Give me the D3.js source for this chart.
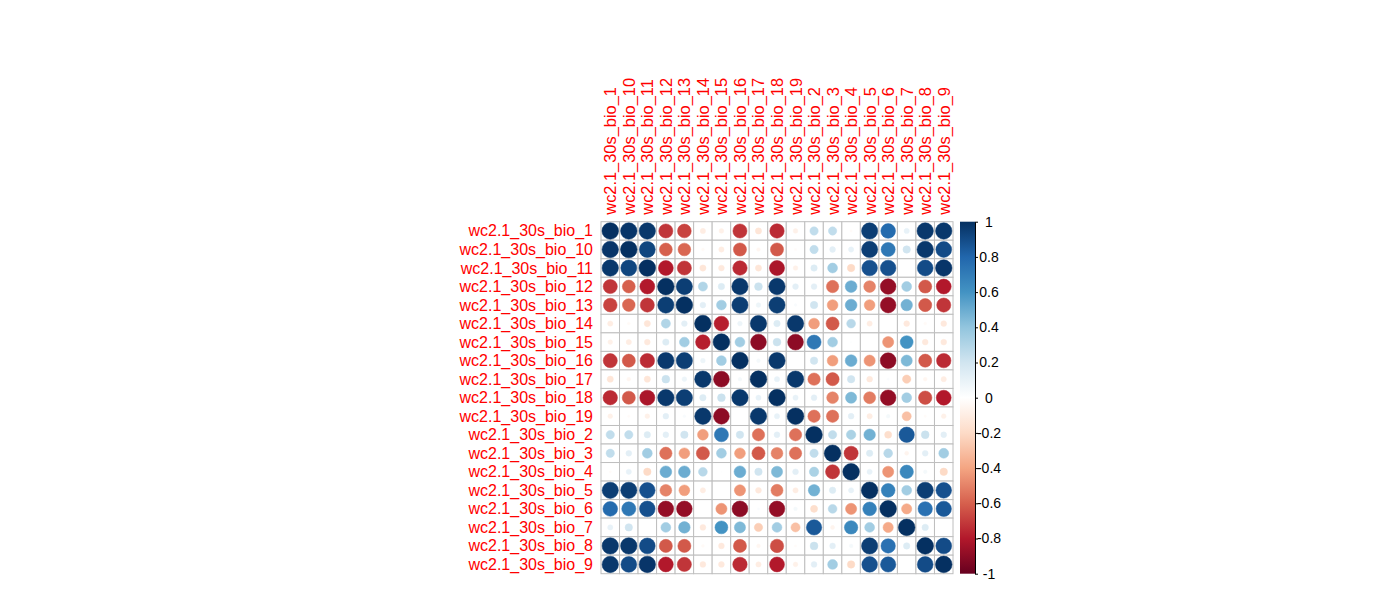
<!DOCTYPE html>
<html>
<head>
<meta charset="utf-8">
<script src="https://cdn.jsdelivr.net/npm/d3@7"></script>
<style>
  html, body { margin: 0; padding: 0; background: #ffffff; }
  svg { display: block; }
  text { font-family: "Liberation Sans", Arial, sans-serif; }
</style>
</head>
<body>
<svg id="chart" width="1388" height="590"></svg>
<script>
// ---------------- data ----------------
const variables = ["wc2.1_30s_bio_1","wc2.1_30s_bio_10","wc2.1_30s_bio_11","wc2.1_30s_bio_12",
  "wc2.1_30s_bio_13","wc2.1_30s_bio_14","wc2.1_30s_bio_15","wc2.1_30s_bio_16","wc2.1_30s_bio_17",
  "wc2.1_30s_bio_18","wc2.1_30s_bio_19","wc2.1_30s_bio_2","wc2.1_30s_bio_3","wc2.1_30s_bio_4",
  "wc2.1_30s_bio_5","wc2.1_30s_bio_6","wc2.1_30s_bio_7","wc2.1_30s_bio_8","wc2.1_30s_bio_9"];

const corrRows = [
  [ 1.00, 0.98, 0.97,-0.72,-0.68,-0.10,-0.08,-0.72,-0.14,-0.75,-0.08, 0.25, 0.25,-0.02, 0.95, 0.78, 0.10, 0.97, 0.97],
  [ 0.98, 1.00, 0.92,-0.60,-0.58,-0.03,-0.10,-0.62,-0.05,-0.62,-0.02, 0.25, 0.12, 0.10, 0.95, 0.72, 0.20, 0.97, 0.90],
  [ 0.97, 0.92, 1.00,-0.80,-0.72,-0.14,-0.12,-0.75,-0.14,-0.82,-0.08, 0.15, 0.35,-0.20, 0.88, 0.88, 0.00, 0.90, 0.98],
  [-0.72,-0.60,-0.80, 1.00, 0.95, 0.30, 0.15, 0.97, 0.22, 0.97, 0.12, 0.12,-0.55, 0.50,-0.50,-0.88, 0.35,-0.62,-0.80],
  [-0.68,-0.58,-0.72, 0.95, 1.00, 0.12, 0.35, 0.95, 0.08, 0.95, 0.03, 0.20,-0.42, 0.50,-0.42,-0.88, 0.48,-0.62,-0.72],
  [-0.10,-0.03,-0.14, 0.30, 0.12, 1.00,-0.78, 0.08, 0.97, 0.15, 0.97,-0.42,-0.62, 0.28,-0.10, 0.00,-0.12,-0.03,-0.12],
  [-0.08,-0.10,-0.12, 0.15, 0.35,-0.78, 1.00, 0.35,-0.90, 0.22,-0.90, 0.72, 0.35, 0.01, 0.00,-0.45, 0.60,-0.12,-0.12],
  [-0.72,-0.62,-0.75, 0.97, 0.95, 0.08, 0.35, 1.00, 0.05, 0.97, 0.00, 0.20,-0.42, 0.50,-0.45,-0.90, 0.45,-0.62,-0.75],
  [-0.14,-0.05,-0.14, 0.22, 0.08, 0.97,-0.90, 0.05, 1.00, 0.10, 0.97,-0.55,-0.62, 0.20,-0.12, 0.02,-0.25,-0.05,-0.10],
  [-0.75,-0.62,-0.82, 0.97, 0.95, 0.15, 0.22, 0.97, 0.10, 1.00, 0.10, 0.12,-0.50, 0.45,-0.52,-0.88, 0.35,-0.65,-0.80],
  [-0.08,-0.02,-0.08, 0.12, 0.03, 0.97,-0.90, 0.00, 0.97, 0.10, 1.00,-0.55,-0.55, 0.12,-0.10, 0.05,-0.30,-0.02,-0.08],
  [ 0.25, 0.25, 0.15, 0.12, 0.20,-0.42, 0.72, 0.20,-0.55, 0.12,-0.55, 1.00, 0.25, 0.32, 0.48,-0.18, 0.85, 0.22, 0.12],
  [ 0.25, 0.12, 0.35,-0.55,-0.42,-0.62, 0.35,-0.42,-0.62,-0.50,-0.55, 0.25, 1.00,-0.72, 0.15, 0.28,-0.06, 0.12, 0.35],
  [-0.02, 0.10,-0.20, 0.50, 0.50, 0.28, 0.01, 0.50, 0.20, 0.45, 0.12, 0.32,-0.72, 1.00, 0.10,-0.45, 0.65, 0.05,-0.20],
  [ 0.95, 0.95, 0.88,-0.50,-0.42,-0.10, 0.00,-0.45,-0.12,-0.52,-0.10, 0.48, 0.15, 0.10, 1.00, 0.68, 0.35, 0.95, 0.88],
  [ 0.78, 0.72, 0.88,-0.88,-0.88, 0.00,-0.45,-0.90, 0.02,-0.88, 0.05,-0.18, 0.28,-0.45, 0.68, 1.00,-0.38, 0.75, 0.85],
  [ 0.10, 0.20, 0.00, 0.35, 0.48,-0.12, 0.60, 0.45,-0.25, 0.35,-0.30, 0.85,-0.06, 0.65, 0.35,-0.38, 1.00, 0.15, 0.00],
  [ 0.97, 0.97, 0.90,-0.62,-0.62,-0.03,-0.12,-0.62,-0.05,-0.65,-0.02, 0.22, 0.12, 0.05, 0.95, 0.75, 0.15, 1.00, 0.90],
  [ 0.97, 0.90, 0.98,-0.80,-0.72,-0.12,-0.12,-0.75,-0.10,-0.80,-0.08, 0.12, 0.35,-0.20, 0.88, 0.85, 0.00, 0.90, 1.00]
];

const legendTicks = [-1, -0.8, -0.6, -0.4, -0.2, 0, 0.2, 0.4, 0.6, 0.8, 1];
const paletteColors = ["#67001F","#B2182B","#D6604D","#F4A582","#FDDBC7","#FFFFFF",
                       "#D1E5F0","#92C5DE","#4393C3","#2166AC","#053061"];

// ---------------- layout ----------------
const gridLeft = 601, gridTop = 221.7, gridSize = 352;
const svg = d3.select("#chart");

const x = d3.scaleBand().domain(variables).range([gridLeft, gridLeft + gridSize]);
const y = d3.scaleBand().domain(variables).range([gridTop, gridTop + gridSize]);
const cell = x.bandwidth();

const color = d3.scaleLinear()
  .domain(d3.range(paletteColors.length).map(i => -1 + 2 * i / (paletteColors.length - 1)))
  .range(paletteColors)
  .interpolate(d3.interpolateRgb)
  .clamp(true);

const cells = [];
corrRows.forEach((row, i) => row.forEach((v, j) => cells.push({ r: variables[i], c: variables[j], v })));

// grid cells
svg.append("g").selectAll("rect").data(cells).join("rect")
  .attr("x", d => x(d.c))
  .attr("y", d => y(d.r))
  .attr("width", cell)
  .attr("height", cell)
  .attr("fill", "#ffffff")
  .attr("stroke", "#BEBEBE")
  .attr("stroke-width", 1);

// circles
svg.append("g").selectAll("circle").data(cells.filter(d => Math.abs(d.v) > 0.001)).join("circle")
  .attr("cx", d => x(d.c) + cell / 2)
  .attr("cy", d => y(d.r) + cell / 2)
  .attr("r", d => 0.45 * Math.sqrt(Math.abs(d.v)) * cell)
  .attr("fill", d => color(d.v))
  .attr("stroke", d => color(d.v))
  .attr("stroke-width", 0.5);

// row labels
svg.append("g").selectAll("text").data(variables).join("text")
  .attr("x", gridLeft - 8)
  .attr("y", d => y(d) + cell / 2)
  .attr("text-anchor", "end")
  .attr("dominant-baseline", "central")
  .attr("font-size", 16)
  .attr("fill", "#FF0000")
  .text(d => d);

// column labels
svg.append("g").selectAll("text").data(variables).join("text")
  .attr("transform", d => `translate(${x(d) + cell / 2},${gridTop - 7}) rotate(-90)`)
  .attr("text-anchor", "start")
  .attr("dominant-baseline", "central")
  .attr("font-size", 16.4)
  .attr("fill", "#FF0000")
  .text(d => d);

// ---------------- color legend ----------------
const barX = 960, barW = 15;
const ly = d3.scaleLinear().domain([-1, 1]).range([gridTop + gridSize, gridTop]);

const defs = svg.append("defs");
const grad = defs.append("linearGradient").attr("id", "cbar")
  .attr("x1", "0").attr("y1", "1").attr("x2", "0").attr("y2", "0");
grad.selectAll("stop").data(color.domain()).join("stop")
  .attr("offset", d => (d + 1) / 2)
  .attr("stop-color", d => color(d));

svg.append("rect")
  .attr("x", barX).attr("y", ly(1))
  .attr("width", barW).attr("height", ly(-1) - ly(1))
  .attr("fill", "url(#cbar)");

const axis = d3.axisRight(ly).tickValues(legendTicks).tickSize(3).tickSizeOuter(0)
  .tickFormat(d => d3.format("")(d).replace("\u2212", "-"));
const ag = svg.append("g").attr("transform", `translate(${barX + barW},0)`).call(axis);
ag.select(".domain").attr("stroke", "#000").attr("stroke-width", 1);
ag.selectAll(".tick line").attr("stroke", "#000").attr("stroke-width", 1);
ag.selectAll(".tick text")
  .attr("x", 14)
  .attr("text-anchor", "middle")
  .attr("font-size", 14)
  .attr("font-family", "'Liberation Sans', Arial, sans-serif")
  .attr("fill", "#000");
</script>
</body>
</html>
